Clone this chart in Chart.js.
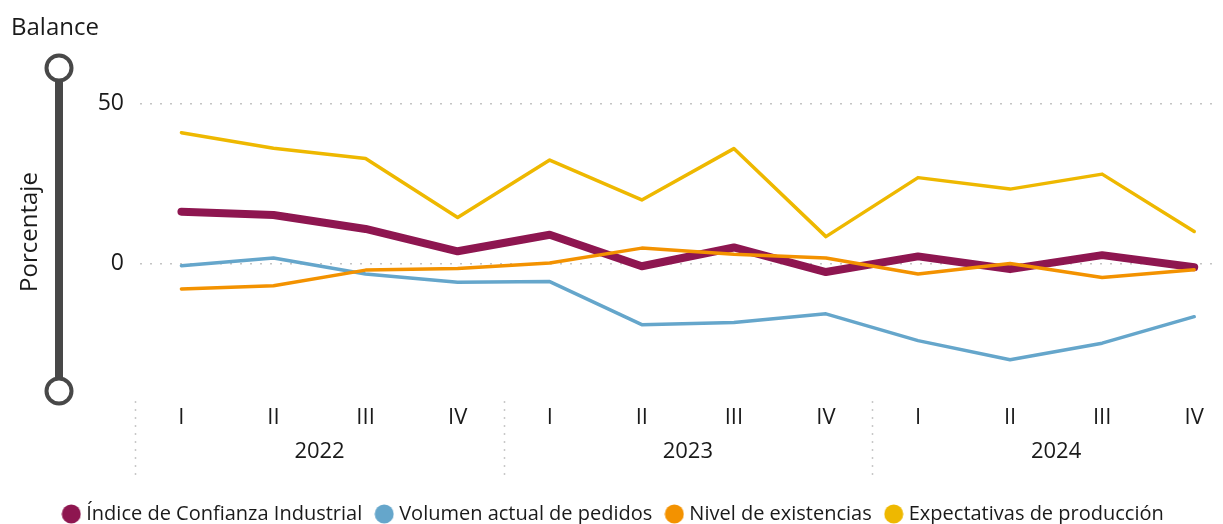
<!DOCTYPE html>
<html>
<head>
<meta charset="utf-8">
<script src="https://cdn.jsdelivr.net/npm/chart.js@4"></script>
<style>
  html, body { margin: 0; padding: 0; background: #fff; }
  #wrap { width: 1223px; height: 524px; position: relative; }
</style>
</head>
<body>
<div id="wrap"><canvas id="myChart"></canvas></div>
<script>
// datos (balance en porcentaje, por trimestre)
var trimestres = ['I', 'II', 'III', 'IV', 'I', 'II', 'III', 'IV', 'I', 'II', 'III', 'IV']
var anios = ['2022', '2023', '2024']
var indice = [16.2, 15.2, 10.8, 3.8, 9.0, -0.9, 5.0, -2.7, 2.2, -1.8, 2.6, -1.2]
var volumen = [-0.7, 1.7, -3.3, -5.9, -5.7, -19.2, -18.5, -15.8, -24.2, -30.2, -25.0, -16.7]
var existencias = [-8.0, -7.0, -2.1, -1.6, 0.1, 4.8, 2.9, 1.7, -3.3, 0.0, -4.4, -2.0]
var expectativas = [41.0, 36.1, 32.9, 14.4, 32.4, 19.9, 36.0, 8.4, 26.9, 23.3, 28.0, 10.0]
var ticksY = [0, 50]

var fuente = "'Open Sans', 'Noto Sans', sans-serif"
var colorTexto = '#1a1a1a'

var ctx = document.getElementById('myChart')

function puntos(valores) {
    return valores.map((v, i) => ({ x: i, y: v }))
}

// círculo de la leyenda (más junto al texto que el de chart.js)
function circulo(color) {
    const cv = document.createElement('canvas')
    cv.width = 20
    cv.height = 20
    const c = cv.getContext('2d')
    c.fillStyle = color
    c.beginPath()
    c.arc(10, 10, 9.5, 0, Math.PI * 2)
    c.fill()
    return cv
}

function serie(nombre, valores, color, ancho, orden) {
    return {
        label: nombre,
        data: puntos(valores),
        borderColor: color,
        backgroundColor: color,
        borderWidth: ancho,
        pointRadius: 0,
        pointHoverRadius: 0,
        pointStyle: circulo(color),
        borderCapStyle: 'round',
        borderJoinStyle: 'round',
        tension: 0,
        order: orden
    }
}

// separadores de años, barra lateral y textos del eje
const decoracion = {
    id: 'decoracion',
    afterDraw(chart) {
        const c = chart.ctx
        const x = chart.scales.x
        const x2 = chart.scales.x2
        c.save()

        // separadores punteados entre años
        const limites = anios.map((a, i) => i * 4 - 0.5)
        c.strokeStyle = '#c8c8c8'
        c.lineWidth = 1.5
        c.setLineDash([2, 6])
        limites.forEach(v => {
            const px = Math.round(x.getPixelForValue(v)) + 0.5
            c.beginPath()
            c.moveTo(px, x.top + 10)
            c.lineTo(px, x2.top + 46)
            c.stroke()
        })
        c.setLineDash([])

        // barra vertical con círculos
        const bx = 59, yA = 68, yB = 391
        c.strokeStyle = '#484848'
        c.lineWidth = 8
        c.beginPath()
        c.moveTo(bx, yA)
        c.lineTo(bx, yB)
        c.stroke()
        c.lineWidth = 4
        c.fillStyle = '#fff'
        ;[yA, yB].forEach(cy => {
            c.beginPath()
            c.arc(bx, cy, 12.5, 0, Math.PI * 2)
            c.fill()
            c.stroke()
        })

        // textos
        c.fillStyle = colorTexto
        c.font = '24px ' + fuente
        c.textBaseline = 'middle'
        c.textAlign = 'left'
        c.fillText('Balance', 11, 28)
        c.translate(30, 232)
        c.rotate(-Math.PI / 2)
        c.textAlign = 'center'
        c.fillText('Porcentaje', 0, 0)
        c.restore()
    }
}

new Chart(ctx, {
    type: 'line',
    data: {
        datasets: [
            serie('Índice de Confianza Industrial', indice, '#8e1650', 8, 4),
            serie('Volumen actual de pedidos', volumen, '#65a6cb', 3.5, 3),
            serie('Nivel de existencias', existencias, '#f39200', 3.5, 2),
            serie('Expectativas de producción', expectativas, '#eeb800', 3.5, 1)
        ]
    },
    options: {
        responsive: true,
        maintainAspectRatio: false,
        animation: false,
        layout: { padding: { top: 88, bottom: -10, left: 10, right: 3 } },
        scales: {
            y: {
                type: 'linear',
                min: -40,
                max: 55,
                bounds: 'data',
                afterBuildTicks: a => { a.ticks = ticksY.map(v => ({ value: v })) },
                afterFit: s => { s.width = 130 },
                ticks: {
                    padding: 16,
                    color: colorTexto,
                    font: { family: fuente, size: 23 }
                },
                grid: { color: '#c4c4c4', lineWidth: 1.5, drawTicks: false },
                border: { display: false, dash: [2, 8] }
            },
            x: {
                type: 'linear',
                min: -0.45,
                max: 11.28,
                bounds: 'data',
                afterBuildTicks: a => { a.ticks = trimestres.map((t, i) => ({ value: i })) },
                afterFit: s => { s.height = 40 },
                ticks: {
                    autoSkip: false,
                    maxRotation: 0,
                    padding: 14,
                    color: colorTexto,
                    font: { family: fuente, size: 22 },
                    callback: (v, i) => trimestres[i]
                },
                grid: { display: false, drawTicks: false },
                border: { display: false }
            },
            x2: {
                type: 'linear',
                position: 'bottom',
                min: -0.45,
                max: 11.28,
                bounds: 'data',
                afterBuildTicks: a => { a.ticks = anios.map((t, i) => ({ value: i * 4 + 1.5 })) },
                afterFit: s => { s.height = 56 },
                ticks: {
                    autoSkip: false,
                    maxRotation: 0,
                    padding: 8,
                    color: colorTexto,
                    font: { family: fuente, size: 22 },
                    callback: (v, i) => anios[i]
                },
                grid: { display: false, drawTicks: false },
                border: { display: false }
            }
        },
        plugins: {
            tooltip: { enabled: false },
            legend: {
                position: 'bottom',
                labels: {
                    usePointStyle: true,
                    boxHeight: 13,
                    pointStyleWidth: 10,
                    padding: 17,
                    color: colorTexto,
                    font: { family: fuente, size: 20 },
                    sort: (a, b) => a.datasetIndex - b.datasetIndex,
                    generateLabels: chart => Chart.defaults.plugins.legend.labels.generateLabels(chart).map(l => {
                        l.lineWidth = 0
                        return l
                    })
                }
            }
        }
    },
    plugins: [decoracion]
})
</script>
</body>
</html>
